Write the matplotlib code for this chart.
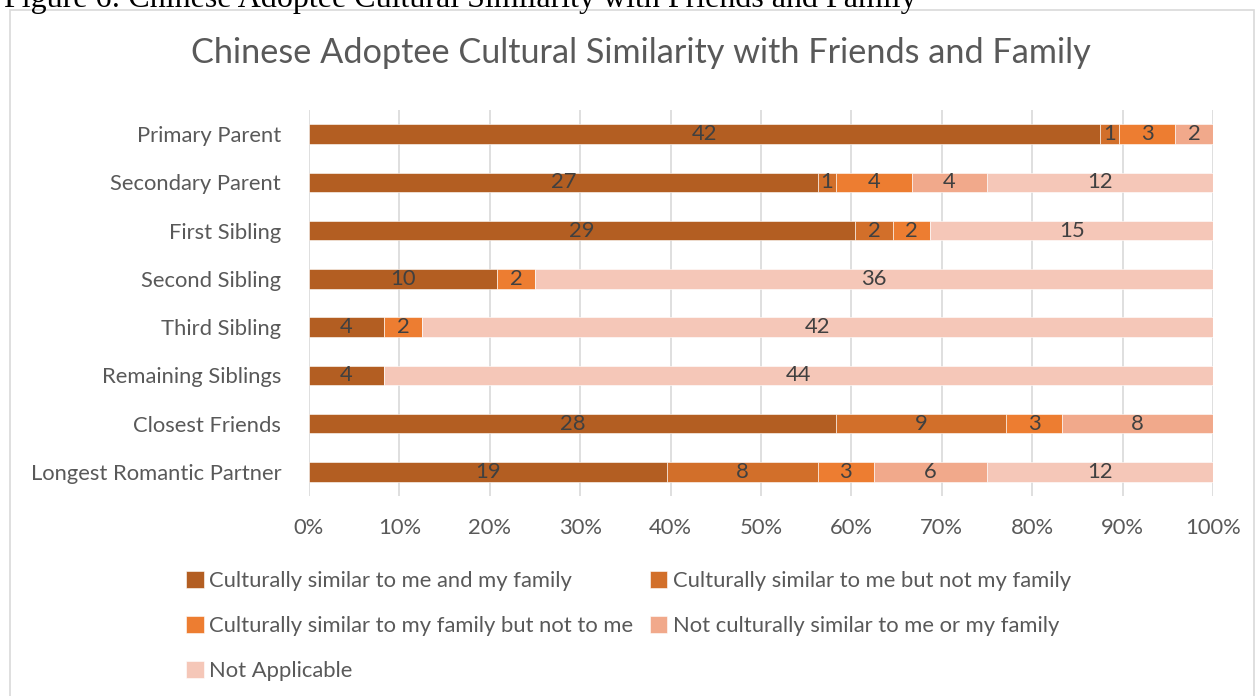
"""100% stacked bar chart: cultural similarity of Chinese adoptees with
friends and family members, by relationship."""

import matplotlib

matplotlib.use("Agg")
import matplotlib.pyplot as plt
import numpy as np
from matplotlib.patches import Rectangle
from matplotlib.ticker import PercentFormatter

plt.rcParams["font.family"] = ["Lato", "DejaVu Sans"]

relations = [
    "Primary Parent",
    "Secondary Parent",
    "First Sibling",
    "Second Sibling",
    "Third Sibling",
    "Remaining Siblings",
    "Closest Friends",
    "Longest Romantic Partner",
]

series_names = [
    "Culturally similar to me and my family",
    "Culturally similar to me but not my family",
    "Culturally similar to my family but not to me",
    "Not culturally similar to me or my family",
    "Not Applicable",
]

similar_both = [42, 27, 29, 10, 4, 4, 28, 19]
similar_me_only = [1, 1, 2, 0, 0, 0, 9, 8]
similar_family_only = [3, 4, 2, 2, 2, 0, 3, 3]
not_similar = [2, 4, 0, 0, 0, 0, 8, 6]
not_applicable = [0, 12, 15, 36, 42, 44, 0, 12]

colors = ["#B35E22", "#D26F2A", "#ED7D31", "#F1A98B", "#F5C7B8"]

counts = np.array(
    [similar_both, similar_me_only, similar_family_only, not_similar, not_applicable],
    dtype=float,
)
shares = counts / counts.sum(axis=0)

fig = plt.figure(figsize=(12.57, 6.96), dpi=100)
W, H = 1257, 696
FS = 15.8

# chart frame and the caption line above it (clipped by the page edge)
fig.patches.append(
    Rectangle((10 / W, -0.02), 1244 / W, 1.02 - 10 / H, transform=fig.transFigure,
              fill=False, edgecolor="#D9D9D9", lw=1.2)
)
fig.text(4 / W, 1 - 7 / H, "Figure 6: Chinese Adoptee Cultural Similarity with Friends and Family",
         family="Liberation Serif", fontsize=23, color="black", va="baseline", ha="left")

ax = fig.add_axes([309 / W, 1 - 496 / H, (1213 - 309) / W, (496 - 110) / H])

y = np.arange(len(relations))
left = np.zeros(len(relations))
for name, share, cnt, col in zip(series_names, shares, counts, colors):
    ax.barh(y, share, left=left, height=0.4, color=col, label=name,
            edgecolor="white", linewidth=0.4, zorder=3)
    for yi, s, l, c in zip(y, share, left, cnt):
        if c > 0:
            ax.text(l + s / 2, yi, f"{int(c)}", ha="center", va="center",
                    fontsize=FS, color="#404040", zorder=4)
    left += share

ax.set_xlim(0, 1)
ax.set_ylim(len(relations) - 0.5, -0.5)
ax.set_yticks(y, relations)
ax.set_xticks(np.linspace(0, 1, 11))
ax.xaxis.set_major_formatter(PercentFormatter(1.0, decimals=0))
ax.grid(axis="x", color="#D9D9D9", lw=1.2, zorder=0)
for sp in ax.spines.values():
    sp.set_visible(False)
ax.tick_params(axis="both", length=0, labelsize=FS, colors="#595959")
ax.tick_params(axis="y", pad=20)
ax.tick_params(axis="x", pad=16)

fig.text(641 / W, 1 - 53 / H, "Chinese Adoptee Cultural Similarity with Friends and Family",
         ha="center", va="center", fontsize=24.7, color="#595959")

# legend rows read left-to-right, so feed handles column by column
handles, labels = ax.get_legend_handles_labels()
order = [0, 2, 4, 1, 3]
fig.legend([handles[i] for i in order], [labels[i] for i in order],
           loc="upper left", bbox_to_anchor=(186 / W, 1 - 571 / H), ncol=2,
           frameon=False, fontsize=FS, labelcolor="#595959", borderpad=0,
           borderaxespad=0, handlelength=0.8, handleheight=0.8, handletextpad=0.25,
           columnspacing=0.75, labelspacing=1.14)

fig.savefig("out.png", dpi=100)
